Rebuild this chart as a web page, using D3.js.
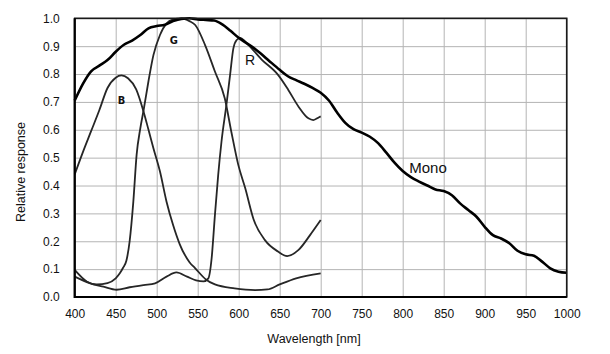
<!DOCTYPE html>
<html>
<head>
<meta charset="utf-8">
<script src="https://cdn.jsdelivr.net/npm/d3@7"></script>
<style>
    body { margin: 0; background: #fff; }
    svg { font-family: "Liberation Sans", Arial, sans-serif; }
    .grid line { stroke: #b4b4b4; stroke-width: 1; }
    .grid path { display: none; }
    .axis path { display: none; }
    .axis text { font-size: 12px; fill: #111; }
</style>
</head>
<body>
<script>
//spectral response data

//tick values
var xTicks = [400, 450, 500, 550, 600, 650, 700, 750, 800, 850, 900, 950, 1000];
var yTicks = [0, 0.1, 0.2, 0.3, 0.4, 0.5, 0.6, 0.7, 0.8, 0.9, 1.0];

//monochrome sensor, every 10 nm from 400 to 1000
var monoNm = d3.range(400, 1001, 10);
var monoVal = [
    0.705, 0.765, 0.81, 0.83, 0.85, 0.88, 0.905, 0.92, 0.94, 0.964,
    0.972, 0.977, 0.99, 0.998, 1.0, 0.996, 0.994, 0.992, 0.978, 0.955,
    0.93, 0.91, 0.89, 0.866, 0.84, 0.815, 0.792, 0.778, 0.765, 0.75,
    0.733, 0.705, 0.662, 0.625, 0.602, 0.59, 0.575, 0.552, 0.518, 0.482,
    0.452, 0.43, 0.414, 0.40, 0.386, 0.38, 0.365, 0.336, 0.312, 0.288,
    0.252, 0.222, 0.21, 0.193, 0.166, 0.153, 0.148, 0.127, 0.103, 0.091,
    0.087
];

//blue channel
var blueNm = [400, 410, 420, 430, 440, 450, 457, 465, 475, 484, 490, 496, 504, 512, 520, 528, 540, 547, 560, 571, 595, 620, 635, 650, 670, 700];
var blueVal = [0.44, 0.52, 0.595, 0.67, 0.75, 0.787, 0.795, 0.785, 0.745, 0.665, 0.60, 0.534, 0.45, 0.342, 0.258, 0.19, 0.125, 0.103, 0.063, 0.045, 0.031, 0.025, 0.027, 0.045, 0.067, 0.085];

//green channel
var greenNm = [400, 415, 427, 440, 450, 455, 459, 463, 467, 471.5, 475.5, 480, 484, 490, 496, 504, 512, 520, 530, 540, 547, 559, 571, 583, 591, 599.5, 608, 618, 632, 648, 659, 673, 687, 700];
var greenVal = [0.097, 0.055, 0.045, 0.05, 0.067, 0.085, 0.105, 0.13, 0.2, 0.342, 0.51, 0.605, 0.67, 0.775, 0.868, 0.94, 0.982, 0.996, 1.0, 0.99, 0.976, 0.904, 0.809, 0.713, 0.593, 0.474, 0.39, 0.28, 0.204, 0.163, 0.147, 0.169, 0.222, 0.276];

//red channel
var redNm = [400, 419, 435, 451, 467, 484, 498, 512, 524, 537, 548, 557, 563, 567, 571, 575, 579, 585, 589.5, 593.5, 597.5, 602, 608, 628, 648, 660.5, 673, 685, 691, 698, 700];
var redVal = [0.073, 0.049, 0.037, 0.026, 0.035, 0.043, 0.049, 0.073, 0.088, 0.073, 0.06, 0.056, 0.067, 0.139, 0.294, 0.438, 0.557, 0.689, 0.797, 0.892, 0.922, 0.93, 0.916, 0.852, 0.797, 0.743, 0.683, 0.641, 0.635, 0.645, 0.648];

//curve labels, placed at a wavelength / response
var labelText = ["B", "G", "R", "Mono"];
var labelNm = [457, 521, 614, 808];
var labelVal = [0.705, 0.92, 0.85, 0.462];

//svg size
var w = 610, h = 354;

var container = d3.select("body")
    .append("svg")
    .attr("width", w)
    .attr("height", h)
    .attr("class", "container");

//scales
var x = d3.scaleLinear()
    .domain([400, 1000])
    .range([74.7, 566.7]);

var y = d3.scaleLinear()
    .domain([0, 1])
    .range([297, 18.3]);

//grid lines
var xGrid = container.append("g")
    .attr("class", "grid")
    .attr("transform", "translate(0," + y(0) + ")")
    .call(d3.axisBottom(x).tickValues(xTicks).tickSize(-(y(0) - y(1))).tickFormat(""));

var yGrid = container.append("g")
    .attr("class", "grid")
    .attr("transform", "translate(" + x(400) + ",0)")
    .call(d3.axisLeft(y).tickValues(yTicks).tickSize(-(x(1000) - x(400))).tickFormat(""));

//tick labels
var xAxis = container.append("g")
    .attr("class", "axis")
    .attr("transform", "translate(0," + y(0) + ")")
    .call(d3.axisBottom(x).tickValues(xTicks).tickSize(0).tickPadding(12).tickFormat(d3.format("d")));

var yAxis = container.append("g")
    .attr("class", "axis")
    .attr("transform", "translate(" + x(400) + ",0)")
    .call(d3.axisLeft(y).tickValues(yTicks).tickSize(0).tickPadding(15).tickFormat(d3.format(".1f")));

//line generator
var line = d3.line()
    .x(function(d){ return x(d[0]); })
    .y(function(d){ return y(d[1]); })
    .curve(d3.curveMonotoneX);

function pairs(nm, val){
    return nm.map(function(n, i){ return [n, val[i]]; });
}

var colorSeries = [pairs(blueNm, blueVal), pairs(greenNm, greenVal), pairs(redNm, redVal)];

var channels = container.selectAll(".channels")
    .data(colorSeries)
    .enter()
    .append("path")
    .attr("class", "channels")
    .attr("d", line)
    .style("fill", "none")
    .style("stroke", "#262626")
    .style("stroke-width", 1.8);

var mono = container.append("path")
    .datum(pairs(monoNm, monoVal))
    .attr("class", "mono")
    .attr("d", line)
    .style("fill", "none")
    .style("stroke", "#000")
    .style("stroke-width", 2.6);

//plot frame
var frame = container.append("rect")
    .attr("class", "frame")
    .attr("x", x(400))
    .attr("y", y(1))
    .attr("width", x(1000) - x(400))
    .attr("height", y(0) - y(1))
    .style("fill", "none")
    .style("stroke", "#1a1a1a")
    .style("stroke-width", 1.6);

var frameLB = container.append("path")
    .attr("class", "frameLB")
    .attr("d", "M" + x(400) + "," + y(1) + "V" + y(0) + "H" + x(1000))
    .style("fill", "none")
    .style("stroke", "#000")
    .style("stroke-width", 2.2);

//curve labels
var labels = container.selectAll(".labels")
    .data(labelText)
    .enter()
    .append("text")
    .attr("class", "labels")
    .attr("x", function(d, i){ return x(labelNm[i]); })
    .attr("y", function(d, i){ return y(labelVal[i]); })
    .attr("text-anchor", function(d){ return d == "Mono" ? "start" : "middle"; })
    .attr("dy", "0.35em")
    .style("font-family", function(d){
        return (d == "B" || d == "G") ? "'DejaVu Sans Condensed', 'DejaVu Sans', sans-serif" : null;
    })
    .style("font-weight", function(d){ return (d == "B" || d == "G") ? "bold" : "normal"; })
    .style("font-size", function(d){
        if (d == "Mono") return "15px";
        if (d == "R") return "14px";
        return "11px";
    })
    .style("fill", "#111")
    .text(function(d){ return d; });

//axis titles
var xTitle = container.append("text")
    .attr("class", "xTitle")
    .attr("text-anchor", "middle")
    .attr("x", 314)
    .attr("y", 342.5)
    .style("font-size", "12.5px")
    .style("fill", "#111")
    .text("Wavelength [nm]");

var yTitle = container.append("text")
    .attr("class", "yTitle")
    .attr("text-anchor", "middle")
    .attr("transform", "translate(24.5,172) rotate(-90)")
    .style("font-size", "12.5px")
    .style("fill", "#111")
    .text("Relative response");
</script>
</body>
</html>
